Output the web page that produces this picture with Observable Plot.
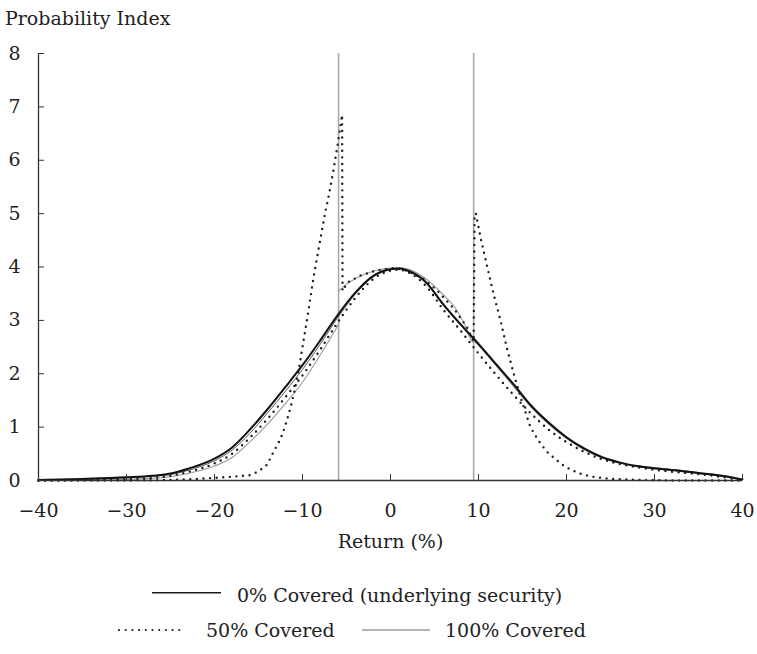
<!DOCTYPE html>
<html>
<head>
<meta charset="utf-8">
<script src="https://cdn.jsdelivr.net/npm/d3@7"></script>
<script src="https://cdn.jsdelivr.net/npm/@observablehq/plot@0.6"></script>
<style>
  body { margin: 0; background: #fff; }
  #wrap { position: relative; width: 757px; height: 654px; font-family: "DejaVu Serif", serif; color: #222; }
  #title { position: absolute; left: 5px; top: 7px; font-size: 19px; line-height: normal; white-space: nowrap; z-index: 2; }
  #chart { position: absolute; left: 0; top: 0; }
  #legend { position: absolute; left: 0; top: 570px; }
</style>
</head>
<body>
<div id="wrap">
  <div id="title">Probability Index</div>
  <div id="chart"></div>
  <svg id="legend" width="757" height="84"></svg>
</div>
<script>
// ---------- data ----------
const titleText = "Probability Index";
const xLabel = "Return (%)";
const xTicks = [-40, -30, -20, -10, 0, 10, 20, 30, 40];
const yTicks = [0, 1, 2, 3, 4, 5, 6, 7, 8];
const xDomain = [-40, 40];
const yDomain = [0, 8];

// common x grid for the smooth curves
const gridX = [-40, -35, -30, -27, -25, -23, -20, -18, -16, -14, -12, -10, -8, -6, -4, -2, 0, 1, 2, 4, 6, 8, 10, 12, 14, 16, 18, 20, 22, 24, 26, 28, 30, 33, 35, 38, 40];

// 0% Covered (underlying security) - thick black
const covered0 = [0.01, 0.03, 0.06, 0.09, 0.13, 0.22, 0.41, 0.62, 0.95, 1.33, 1.74, 2.16, 2.62, 3.1, 3.52, 3.83, 3.96, 3.97, 3.93, 3.72, 3.3, 2.92, 2.56, 2.18, 1.8, 1.4, 1.08, 0.81, 0.6, 0.44, 0.34, 0.27, 0.23, 0.18, 0.14, 0.08, 0.02];
// companion thin dark line next to it
const covered0Alt = [0.0, 0.02, 0.05, 0.08, 0.11, 0.19, 0.37, 0.57, 0.88, 1.26, 1.66, 2.08, 2.55, 3.05, 3.49, 3.81, 3.95, 3.97, 3.93, 3.71, 3.28, 2.9, 2.54, 2.16, 1.78, 1.38, 1.06, 0.79, 0.58, 0.43, 0.33, 0.26, 0.22, 0.17, 0.13, 0.07, 0.02];
// 50% Covered - dotted curve close to the underlying
const covered50Smooth = [0.0, 0.01, 0.03, 0.05, 0.09, 0.16, 0.32, 0.5, 0.8, 1.15, 1.55, 1.97, 2.45, 2.96, 3.42, 3.77, 3.93, 3.95, 3.9, 3.65, 3.2, 2.8, 2.38, 1.98, 1.6, 1.25, 0.95, 0.72, 0.54, 0.4, 0.31, 0.25, 0.2, 0.15, 0.12, 0.06, 0.02];

// 50% Covered - dotted curve with the two peaks
const covered50X = [-40, -30, -25, -22, -20, -18, -16, -15, -14, -13.4, -12.5, -12, -11.4, -10.9, -10.5, -10, -9.4, -8.7, -8.1, -7.5, -7, -6.5, -6, -5.5, -5.45, -4.9, -3.4, -1.5, 0.4, 1.9, 3.8, 5.3, 7.2, 8.7, 9.45, 9.55, 9.7, 10.3, 11, 11.7, 12.5, 13.2, 14, 14.9, 15.9, 16.8, 17.7, 18.6, 19.5, 20.5, 21.7, 23, 25, 28, 32, 40];
const covered50Y = [0, 0, 0.01, 0.03, 0.05, 0.07, 0.1, 0.17, 0.3, 0.5, 0.78, 1.0, 1.34, 1.68, 2.0, 2.5, 3.1, 3.85, 4.4, 4.95, 5.35, 5.8, 6.3, 6.85, 3.55, 3.71, 3.84, 3.94, 3.98, 3.93, 3.77, 3.56, 3.22, 2.87, 2.6, 5.0, 5.0, 4.5, 4.0, 3.5, 3.0, 2.5, 2.0, 1.5, 1.0, 0.75, 0.55, 0.42, 0.3, 0.2, 0.12, 0.07, 0.03, 0.01, 0.0, 0.0];

// 100% Covered - grey, three pieces plus the two spikes
const covered100LeftX = [-40, -35, -30, -27, -25, -23, -20, -18, -16, -14, -12, -10, -8, -6, -5.9];
const covered100LeftY = [0.0, 0.01, 0.02, 0.04, 0.07, 0.13, 0.27, 0.43, 0.72, 1.05, 1.43, 1.84, 2.35, 2.9, 2.93];
const covered100MidX = [-5.9, -5, -4, -2, 0, 1, 2, 4, 6, 7.5, 8.5, 9.2, 9.45];
const covered100MidY = [3.55, 3.68, 3.78, 3.92, 3.98, 3.99, 3.96, 3.78, 3.48, 3.2, 2.9, 2.62, 2.58];
const covered100RightX = [9.45, 10, 12, 14, 16, 18, 20, 22, 24, 26, 28, 30, 33, 35, 38, 40];
const covered100RightY = [2.62, 2.53, 2.15, 1.76, 1.37, 1.05, 0.79, 0.59, 0.43, 0.33, 0.27, 0.24, 0.19, 0.15, 0.09, 0.02];
const spikeX = [-5.9, 9.45];

const legendLabels = ["0% Covered (underlying security)", "50% Covered", "100% Covered"];

// ---------- tables ----------
const zip = (xs, ys, extra = {}) => xs.map((x, i) => ({x, y: ys[i], ...extra}));
const rows0 = zip(gridX, covered0);
const rows0Alt = zip(gridX, covered0Alt);
const rows50a = zip(gridX, covered50Smooth);
const rows50b = zip(covered50X, covered50Y);
const rows100 = [
  ...zip(covered100LeftX, covered100LeftY, {seg: "L"}),
  ...zip(covered100MidX, covered100MidY, {seg: "M"}),
  ...zip(covered100RightX, covered100RightY, {seg: "R"})
];

const dotted = {stroke: "#1e1e1e", strokeWidth: 2.4, strokeDasharray: "0 6.6", strokeLinecap: "round"};
const intFmt = d => String(d).replace("-", "\u2212");

const chart = Plot.plot({
  width: 757,
  height: 570,
  marginLeft: 38,
  marginRight: 15,
  marginTop: 53,
  marginBottom: 90,
  x: {domain: xDomain},
  y: {domain: yDomain},
  style: {fontFamily: '"DejaVu Serif", serif', fontSize: "19px", color: "#222", background: "transparent", overflow: "visible"},
  marks: [
    Plot.ruleX(spikeX, {x: d => d, y1: yDomain[0], y2: yDomain[1], stroke: "#a9a9a9", strokeWidth: 1.6}),
    Plot.line(rows100, {x: "x", y: "y", z: "seg", stroke: "#9a9a9a", strokeWidth: 1.1, curve: "monotone-x"}),
    Plot.line(rows50a, {x: "x", y: "y", curve: "monotone-x", ...dotted}),
    Plot.line(rows50b, {x: "x", y: "y", curve: "linear", ...dotted}),
    Plot.line(rows0Alt, {x: "x", y: "y", stroke: "#444", strokeWidth: 0.9, curve: "monotone-x"}),
    Plot.line(rows0, {x: "x", y: "y", stroke: "#111", strokeWidth: 2, curve: "monotone-x"}),
    Plot.ruleX([xDomain[0]], {x: d => d, y1: yDomain[0], y2: yDomain[1], stroke: "#333", strokeWidth: 1.3}),
    Plot.ruleY([yDomain[0]], {y: d => d, stroke: "#333", strokeWidth: 1.3}),
    Plot.axisY(yTicks, {tickSize: 0, tickPadding: 18, tickFormat: intFmt, label: null}),
    Plot.axisY(yTicks, {tickSize: 6, dx: 6, fill: "none", stroke: "#333", label: null}),
    Plot.axisX(xTicks, {tickSize: 0, tickPadding: 23, tickFormat: intFmt, label: null}),
    Plot.axisX(xTicks, {tickSize: 6, dy: -6, fill: "none", stroke: "#333", label: null}),
    Plot.text([xLabel], {frameAnchor: "bottom", dy: 67, text: d => d})
  ]
});
document.getElementById("chart").append(chart);
document.getElementById("title").textContent = titleText;

// ---------- legend ----------
const lg = d3.select("#legend")
  .attr("font-family", '"DejaVu Serif", serif')
  .attr("font-size", 19)
  .attr("fill", "#222");
const items = [
  {label: legendLabels[0], x1: 152, x2: 221, y: 22.7, tx: 237, ty: 31.7, stroke: "#1a1a1a", sw: 1.5, dash: null, cap: "butt"},
  {label: legendLabels[1], x1: 119, x2: 182, y: 60, tx: 206, ty: 67, stroke: "#1e1e1e", sw: 2.2, dash: "0 6.7", cap: "round"},
  {label: legendLabels[2], x1: 362, x2: 430, y: 60, tx: 445, ty: 67, stroke: "#9a9a9a", sw: 1.3, dash: null, cap: "butt"}
];
for (const it of items) {
  lg.append("line").attr("x1", it.x1).attr("x2", it.x2).attr("y1", it.y).attr("y2", it.y)
    .attr("stroke", it.stroke).attr("stroke-width", it.sw)
    .attr("stroke-dasharray", it.dash).attr("stroke-linecap", it.cap);
  lg.append("text").attr("x", it.tx).attr("y", it.ty).text(it.label);
}
</script>
</body>
</html>
